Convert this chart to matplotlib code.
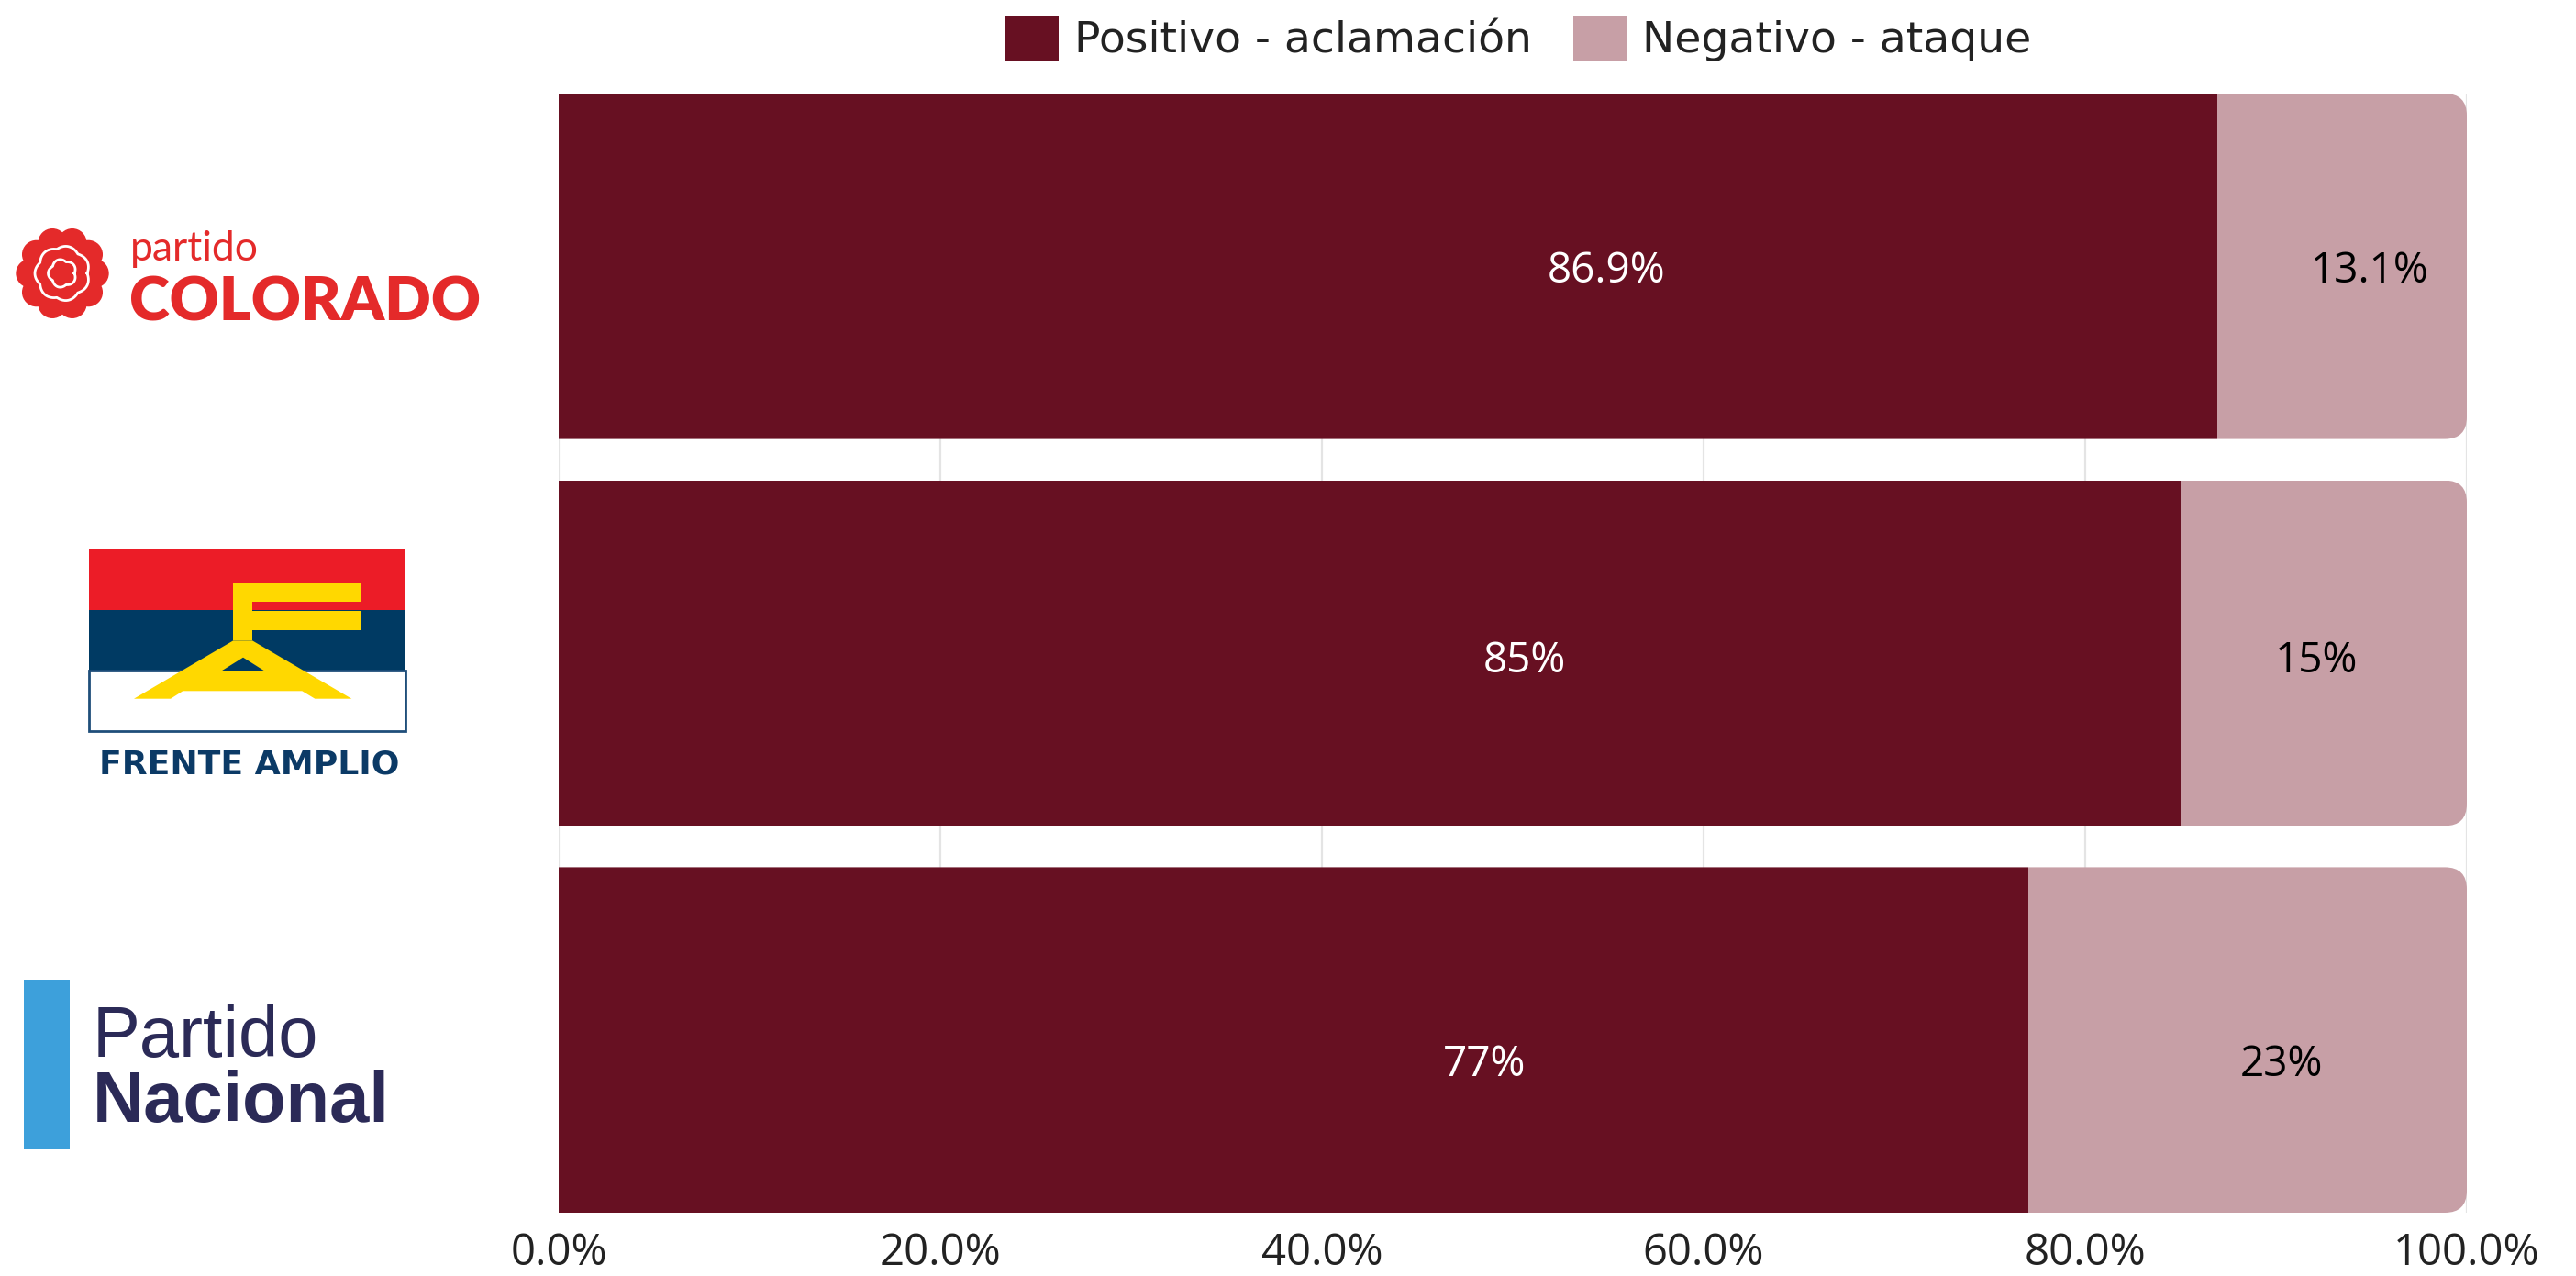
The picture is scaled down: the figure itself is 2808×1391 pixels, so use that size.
import numpy as np
import matplotlib.pyplot as plt
from matplotlib.patches import Rectangle, Polygon, FancyBboxPatch, Circle, Patch

# data
parties = ['Partido Colorado', 'Frente Amplio', 'Partido Nacional']
positivo = [86.9, 85, 77]
negativo = [13.1, 15, 23]
pos_labels = ['86.9%', '85%', '77%']
neg_labels = ['13.1%', '15%', '23%']
xticks = [0, 20, 40, 60, 80, 100]
xtick_labels = ['0.0%', '20.0%', '40.0%', '60.0%', '80.0%', '100.0%']
series_names = ['Positivo - aclamación', 'Negativo - ataque']

# layout tweaks for the value labels (they sit a bit off centre in the original)
pos_nudge = [11.45, 8.1, 10.0]
neg_nudge = [1.45, -0.4, 1.8]
label_dy = [0.014, 0.021, 0.064]

dark = '#671022'
pink = '#C79FA6'
W, H = 2808, 1391

fig = plt.figure(figsize=(W / 100, H / 100), dpi=100)

# overlay in pixel coords for the party logos
lax = fig.add_axes([0, 0, 1, 1])
lax.set_xlim(0, W)
lax.set_ylim(H, 0)
lax.axis('off')

ax = fig.add_axes([609 / W, 69 / H, 2080 / W, 1220 / H])
bar_h = 0.893
y = np.arange(len(parties))

b1 = ax.barh(y, positivo, height=bar_h, color=dark, zorder=2)
b2 = ax.barh(y, negativo, left=positivo, height=bar_h, color=pink, zorder=2)

# rounded right end of each stacked bar
r = 1.15
for i in range(len(parties)):
    clip = FancyBboxPatch((-5, y[i] - bar_h / 2), 105, bar_h,
                          boxstyle=f'round,pad=0,rounding_size={r}',
                          mutation_aspect=0.0496, transform=ax.transData)
    b1[i].set_clip_path(clip)
    b2[i].set_clip_path(clip)

for i in range(len(parties)):
    ax.text(positivo[i] / 2 + pos_nudge[i], y[i] + label_dy[i], pos_labels[i],
            ha='center', va='center', color='white', fontsize=33,
            family='Open Sans', zorder=3)
    ax.text(positivo[i] + negativo[i] / 2 + neg_nudge[i], y[i] + label_dy[i], neg_labels[i],
            ha='center', va='center', color='black', fontsize=33,
            family='Open Sans', zorder=3)

ax.set_xlim(0, 100)
ax.set_ylim(2 + bar_h / 2, -bar_h / 2)
ax.set_xticks(xticks, xtick_labels)
ax.set_yticks([])
ax.tick_params(axis='x', length=0, labelsize=34, pad=15, labelcolor='#222222')
for lbl in ax.get_xticklabels():
    lbl.set_family('Open Sans')
ax.xaxis.grid(True, color='#e4e4e4', lw=1.6, zorder=0)
ax.set_axisbelow(True)
for s in ax.spines.values():
    s.set_visible(False)
ax.patch.set_visible(False)

handles = [Patch(facecolor=dark), Patch(facecolor=pink)]
fig.legend(handles, series_names, loc='center', bbox_to_anchor=(1655 / W, 1 - 42 / H),
           ncol=2, frameon=False, prop={'family': 'DejaVu Sans', 'size': 34},
           labelcolor='#222222',
           handlelength=1.25, handleheight=1.25, handletextpad=0.35, columnspacing=0.95)

# --- Partido Colorado logo ---
red = '#E42A2A'
cx, cy = 68, 298
lax.add_patch(Circle((cx, cy), 36, color=red))
for a in np.linspace(0, 2 * np.pi, 11)[:-1]:
    lax.add_patch(Circle((cx + 35 * np.cos(a), cy + 35 * np.sin(a)), 15, color=red))
th = np.linspace(0, 2 * np.pi, 400)
r1 = 27 + 3 * np.abs(np.sin(3.5 * th))
lax.plot(cx + r1 * np.cos(th), cy + r1 * np.sin(th), color='white', lw=2)
r2 = 13 + 2.5 * np.abs(np.sin(2.5 * th))
lax.plot(cx + r2 * np.cos(th), cy + r2 * np.sin(th), color='white', lw=2)
lax.text(142, 284, 'partido', color=red, fontsize=32, family='Lato',
         weight='normal', va='baseline', ha='left')
lax.text(141, 350, 'COLORADO', color=red, fontsize=48, family='Lato',
         weight='heavy', va='baseline', ha='left')

# --- Frente Amplio logo ---
fa_red, fa_blue, fa_yel = '#EC1C27', '#003A63', '#FFD800'
lax.add_patch(Rectangle((97, 599), 345, 66, color=fa_red, lw=0))
lax.add_patch(Rectangle((97, 665), 345, 66, color=fa_blue, lw=0))
lax.add_patch(Rectangle((97, 731), 345, 66, facecolor='white', edgecolor='#1F4E7A', lw=2))
lax.add_patch(Rectangle((254.3, 635), 20.7, 63.3, color=fa_yel, lw=0))
lax.add_patch(Rectangle((254.3, 635), 139, 21, color=fa_yel, lw=0))
lax.add_patch(Rectangle((275, 665.7), 118.3, 21, color=fa_yel, lw=0))
lax.add_patch(Polygon([(254.3, 698.3), (275, 698.3), (383.3, 761.7), (343.3, 761.7),
                       (329.3, 753.3), (199.3, 753.3), (186, 761.7), (146, 761.7)],
                      closed=True, color=fa_yel, lw=0))
lax.add_patch(Polygon([(241, 731.7), (265, 716.7), (288.7, 731.7)],
                      closed=True, color=fa_blue, lw=0))
lax.text(272, 843, 'FRENTE AMPLIO', color='#0B3A66', fontsize=26,
         family='DejaVu Sans', weight='bold', va='baseline', ha='center')

# --- Partido Nacional logo ---
navy = '#2B2A57'
lax.add_patch(Rectangle((26, 1068), 50, 185, color='#3DA0DB', lw=0))
lax.text(101, 1152, 'Partido', color=navy, fontsize=56, family='Liberation Sans',
         va='baseline', ha='left')
lax.text(101, 1223, 'Nacional', color=navy, fontsize=56, family='Liberation Sans',
         weight='bold', va='baseline', ha='left')

fig.savefig('out.png', dpi=100)
